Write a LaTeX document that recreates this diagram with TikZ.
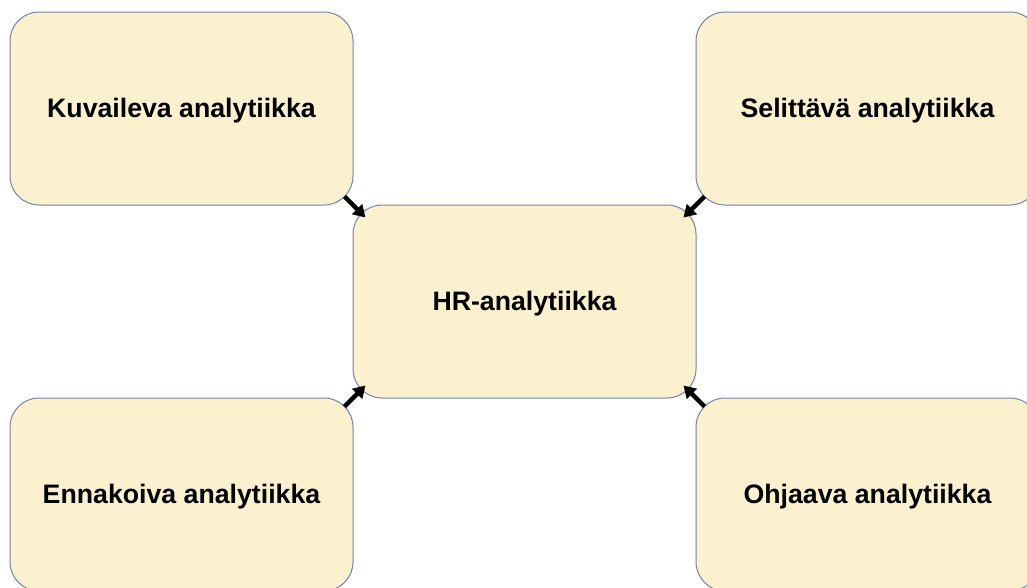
\documentclass[tikz,border=0pt]{standalone}
\usepackage{fontspec}
\setmainfont{Liberation Sans}
\usetikzlibrary{calc,arrows.meta}
\definecolor{boxfill}{RGB}{252,241,206}
\definecolor{boxline}{RGB}{112,130,172}
\tikzset{
  every picture/.style={x=1pt,y=1pt},
  card/.style={draw=boxline, fill=boxfill, line width=1pt, rounded corners=29pt,
    minimum width=343pt, minimum height=193pt, inner sep=0pt, anchor=center,
    text height=18.5pt, text depth=0pt,
    font=\fontsize{26.7}{32}\selectfont\bfseries},
  link/.style={line width=4.5pt, -{Triangle[length=12pt,width=14pt]}}
}
\begin{document}
\begin{tikzpicture}
\useasboundingbox (0,0) rectangle (1027,-587);
\clip (0,0) rectangle (1027,-587);
\node[card] (tl) at (181.5,-108.5) {Kuvaileva analytiikka};
\node[card] (tr) at (867.5,-108.5) {Selittävä analytiikka};
\node[card] (c)  at (524.5,-301.5) {HR-analytiikka};
\node[card] (bl) at (181.5,-494.5) {Ennakoiva analytiikka};
\node[card] (br) at (867.5,-494.5) {Ohjaava analytiikka};
\draw[link] ($(tl.south east)+(-9,9)$) -- ($(c.north west)+(13,-13)$);
\draw[link] ($(tr.south west)+(9,9)$) -- ($(c.north east)+(-13,-13)$);
\draw[link] ($(bl.north east)+(-9,-9)$) -- ($(c.south west)+(13,13)$);
\draw[link] ($(br.north west)+(9,-9)$) -- ($(c.south east)+(-13,13)$);
\end{tikzpicture}
\end{document}
